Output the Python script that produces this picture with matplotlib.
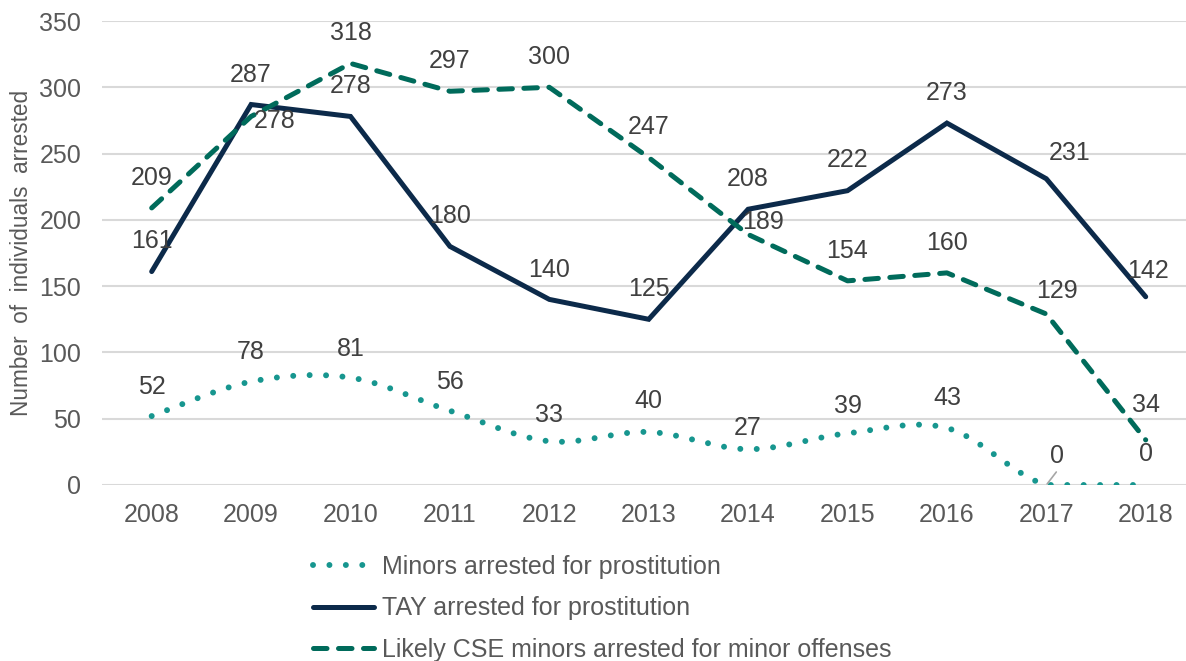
import numpy as np
import matplotlib
matplotlib.use("Agg")
import matplotlib.pyplot as plt

plt.rcParams['font.family'] = ['Liberation Sans', 'DejaVu Sans']

years = ["2008", "2009", "2010", "2011", "2012", "2013", "2014", "2015", "2016", "2017", "2018"]
minors = [52, 78, 81, 56, 33, 40, 27, 39, 43, 0, 0]
tay = [161, 287, 278, 180, 140, 125, 208, 222, 273, 231, 142]
cse = [209, 278, 318, 297, 300, 247, 189, 154, 160, 129, 34]
series_names = ["Minors arrested for prostitution",
                "TAY arrested for prostitution",
                "Likely CSE minors arrested for minor offenses"]

# label offsets in pixels (dx, dy)
minors_off = [(0, 29), (0, 30), (0, 29), (0, 29), (0, 26), (0, 31), (0, 21), (0, 27), (0, 30), (11, 29), (0, 31)]
tay_off = [(0, 31), (0, 30), (0, 30), (0, 30), (0, 29), (0, 30), (0, 30), (0, 31), (0, 30), (23, 26), (2, 26)]
cse_off = [(0, 30), (24, -5), (0, 30), (0, 30), (0, 30), (0, 31), (15, 12), (0, 30), (0, 30), (11, 23), (0, 35)]

C_MIN = '#17968F'
C_TAY = '#0C2A4A'
C_CSE = '#006B5B'
GRID = '#D9D9D9'
TXT = '#595959'
LBL = '#404040'
FS = 18

W, H = 1186, 661
fig = plt.figure(figsize=(W / 100, H / 100), dpi=100)
left_px, axis_px = 102, 485
cat_w = 99.4
ax = fig.add_axes([left_px / W, (H - axis_px) / H, 11 * cat_w / W, (axis_px - 21) / H])
x = np.arange(len(years))


def smooth(xs, ys, n=40):
    xs = np.asarray(xs, float)
    ys = np.asarray(ys, float)
    out_x, out_y = [], []
    m = len(xs)
    for i in range(m - 1):
        p0 = np.array([xs[i], ys[i]])
        p3 = np.array([xs[i + 1], ys[i + 1]])
        pm = np.array([xs[i - 1], ys[i - 1]]) if i > 0 else p0
        pp = np.array([xs[i + 2], ys[i + 2]]) if i + 2 < m else p3
        c1 = p0 + (p3 - pm) / 6.0
        c2 = p3 - (pp - p0) / 6.0
        t = np.linspace(0, 1, n, endpoint=(i == m - 2))[:, None]
        pts = ((1 - t) ** 3) * p0 + 3 * ((1 - t) ** 2) * t * c1 + 3 * (1 - t) * t ** 2 * c2 + t ** 3 * p3
        out_x.extend(pts[:, 0])
        out_y.extend(pts[:, 1])
    return np.array(out_x), np.clip(np.array(out_y), 0, None)


sx, sy = smooth(x, minors)
l_min, = ax.plot(sx, sy, color=C_MIN, lw=4.3, solid_capstyle='round',
                 dash_capstyle='round', label=series_names[0])
l_min.set_dashes((0.001, 2.75))
l_tay, = ax.plot(x, tay, color=C_TAY, lw=3.6, solid_capstyle='round',
                 solid_joinstyle='miter', label=series_names[1], zorder=3)
l_cse, = ax.plot(x, cse, color=C_CSE, lw=3.6, dash_capstyle='round',
                 label=series_names[2], zorder=3)
l_cse.set_dashes((2.7, 2.3))

for vals, offs in ((minors, minors_off), (tay, tay_off), (cse, cse_off)):
    for xi, v, (dx, dy) in zip(x, vals, offs):
        ax.annotate(str(v), (xi, v), xytext=(dx, dy), textcoords='offset pixels',
                    ha='center', va='center', fontsize=FS, color=LBL, zorder=5)

# leader line for 2017 minors label
ax.annotate('', (x[9], minors[9]), xytext=(10, 13), textcoords='offset pixels',
            arrowprops=dict(arrowstyle='-', color='#A6A6A6', lw=1.2, shrinkA=0, shrinkB=1))

ax.set_xlim(-0.5, len(years) - 0.5)
ax.set_ylim(0, 350)
ax.set_yticks(np.arange(0, 351, 50))
ax.set_xticks(x)
ax.set_xticklabels(years)
ax.grid(axis='y', color=GRID, lw=1.5)
ax.set_axisbelow(True)
for s in ax.spines.values():
    s.set_visible(False)
ax.tick_params(axis='both', length=0, labelsize=FS, labelcolor=TXT)
ax.tick_params(axis='x', pad=13)
ax.tick_params(axis='y', pad=15)
ax.set_ylabel("Number  of  individuals  arrested", fontsize=16.3, color=TXT)
ax.yaxis.set_label_coords(-(left_px - 33) / (11 * cat_w), 0.5)

leg = fig.legend(handles=[l_min, l_tay, l_cse], loc='upper left',
                 bbox_to_anchor=(313 / W, 1 - 555 / H), frameon=False,
                 fontsize=FS, labelcolor=TXT, handlelength=2.45,
                 handletextpad=0.3, labelspacing=0.70, borderpad=0, borderaxespad=0)

fig.savefig('out.png', dpi=100)
